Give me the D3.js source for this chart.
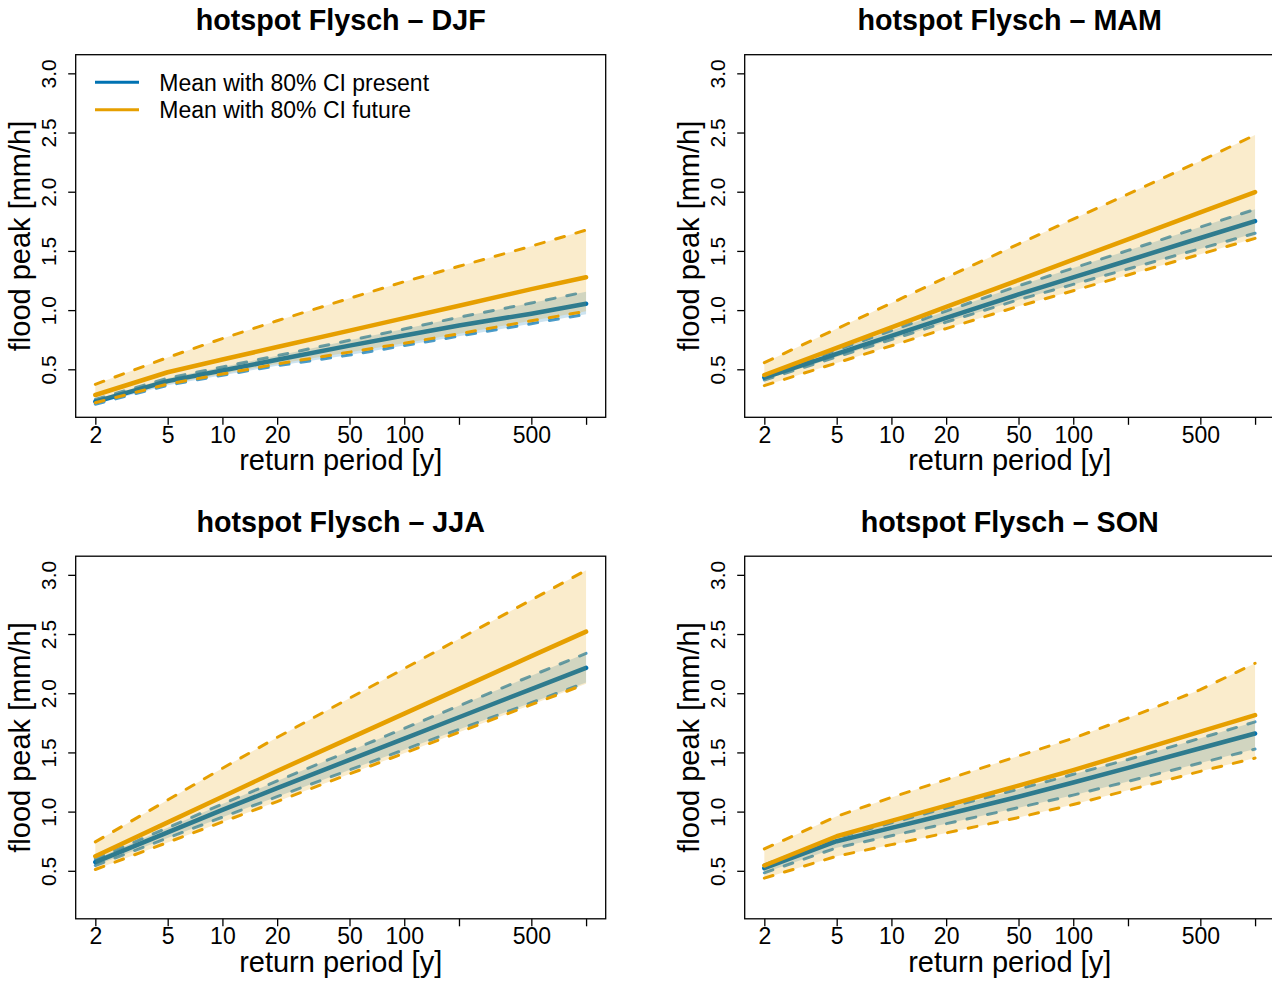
<!DOCTYPE html>
<html>
<head>
<meta charset="utf-8">
<script src="https://cdn.jsdelivr.net/npm/d3@7"></script>
<style>
  body { margin: 0; background: #fff; }
  svg { display: block; }
  text { font-family: "Liberation Sans", Arial, Helvetica, sans-serif; fill: #000; }
</style>
</head>
<body>
<svg id="chart" width="1272" height="990"></svg>
<script>
// Return periods (years) at which the flood peak quantiles are evaluated
const returnPeriods = [2, 5, 10, 20, 50, 100, 200, 500, 1000];
const seasons = ["DJF", "MAM", "JJA", "SON"];

// One row per season (DJF, MAM, JJA, SON); values in mm/h
const presentMean = [
  [0.226, 0.400, 0.490, 0.580, 0.700, 0.785, 0.870, 0.970, 1.054],
  [0.430, 0.631, 0.783, 0.935, 1.133, 1.276, 1.419, 1.609, 1.752],
  [0.573, 0.824, 1.014, 1.199, 1.437, 1.617, 1.797, 2.035, 2.214],
  [0.522, 0.750, 0.863, 0.976, 1.126, 1.246, 1.370, 1.535, 1.660]
];
const presentLow = [
  [0.205, 0.365, 0.450, 0.530, 0.620, 0.700, 0.780, 0.885, 0.965],
  [0.410, 0.604, 0.751, 0.898, 1.087, 1.217, 1.347, 1.519, 1.649],
  [0.545, 0.777, 0.953, 1.126, 1.352, 1.523, 1.694, 1.920, 2.090],
  [0.483, 0.694, 0.796, 0.898, 1.033, 1.139, 1.255, 1.410, 1.528]
];
const presentHigh = [
  [0.245, 0.425, 0.520, 0.615, 0.745, 0.840, 0.940, 1.060, 1.155],
  [0.445, 0.663, 0.827, 0.992, 1.205, 1.355, 1.504, 1.702, 1.851],
  [0.600, 0.864, 1.064, 1.259, 1.512, 1.703, 1.894, 2.147, 2.337],
  [0.550, 0.780, 0.905, 1.030, 1.190, 1.315, 1.440, 1.620, 1.758]
];
const futureMean = [
  [0.283, 0.475, 0.583, 0.688, 0.827, 0.932, 1.037, 1.177, 1.277],
  [0.452, 0.681, 0.854, 1.027, 1.254, 1.426, 1.598, 1.825, 1.997],
  [0.623, 0.909, 1.126, 1.343, 1.619, 1.828, 2.037, 2.313, 2.520],
  [0.545, 0.792, 0.922, 1.051, 1.220, 1.350, 1.490, 1.675, 1.815]
];
const futureLow = [
  [0.218, 0.375, 0.460, 0.545, 0.645, 0.720, 0.800, 0.910, 0.990],
  [0.362, 0.554, 0.699, 0.844, 1.032, 1.164, 1.297, 1.472, 1.606],
  [0.511, 0.740, 0.913, 1.085, 1.318, 1.494, 1.670, 1.903, 2.079],
  [0.438, 0.623, 0.721, 0.820, 0.950, 1.060, 1.180, 1.340, 1.452]
];
const futureHigh = [
  [0.373, 0.600, 0.760, 0.910, 1.100, 1.240, 1.370, 1.540, 1.676],
  [0.556, 0.842, 1.059, 1.276, 1.558, 1.769, 1.980, 2.260, 2.479],
  [0.744, 1.098, 1.366, 1.627, 1.958, 2.208, 2.458, 2.788, 3.038],
  [0.685, 0.960, 1.120, 1.270, 1.470, 1.620, 1.790, 2.030, 2.253]
];

// Axis ticks
const xTickValues = [2, 5, 10, 20, 50, 100, 200, 500, 1000];
const xTickLabels = ["2", "5", "10", "20", "50", "100", "", "500", ""];
const yTickValues = [0.5, 1.0, 1.5, 2.0, 2.5, 3.0];
const yTickLabels = ["0.5", "1.0", "1.5", "2.0", "2.5", "3.0"];
const yLimits = [0.208, 3.044];
const legendLabels = ["Mean with 80% CI present", "Mean with 80% CI future"];

const colPresent = "#0072B2";
const colFuture = "#E69F00";

// Layout of the 2 x 2 panel grid
const panelW = 669, panelH = 501.5;
const mLeft = 75.7, mTop = 54.7, plotW = 530, plotH = 362.6;

const svg = d3.select("#chart");

// R-style 4% axis extension
function extend(lo, hi) { const e = (hi - lo) * 0.04; return [lo - e, hi + e]; }
const xLogExt = extend(Math.log10(returnPeriods[0]), Math.log10(returnPeriods[returnPeriods.length - 1]));
const xDomain = [Math.pow(10, xLogExt[0]), Math.pow(10, xLogExt[1])];
const yDomain = extend(yLimits[0], yLimits[1]);

seasons.forEach((season, i) => {
  const col = i % 2, row = Math.floor(i / 2);
  const g = svg.append("g")
    .attr("transform", `translate(${col * panelW + mLeft},${row * panelH + mTop})`);

  const x = d3.scaleLog().domain(xDomain).range([0, plotW]);
  const y = d3.scaleLinear().domain(yDomain).range([plotH, 0]);

  const pts = (arr) => returnPeriods.map((t, k) => [t, arr[i][k]]);
  const line = d3.line().x(d => x(d[0])).y(d => y(d[1]));
  const band = (lo, hi) => d3.area()
    .x((t) => x(t))
    .y0((t, k) => y(lo[i][k]))
    .y1((t, k) => y(hi[i][k]))(returnPeriods);

  // present: band, bounds, mean
  g.append("path").attr("d", band(presentLow, presentHigh))
    .attr("fill", colPresent).attr("fill-opacity", 0.2);
  [presentLow, presentHigh].forEach(arr => {
    g.append("path").attr("d", line(pts(arr)))
      .attr("fill", "none").attr("stroke", colPresent).attr("stroke-opacity", 0.7)
      .attr("stroke-width", 3).attr("stroke-dasharray", "9,12").attr("stroke-linecap", "round");
  });
  g.append("path").attr("d", line(pts(presentMean)))
    .attr("fill", "none").attr("stroke", colPresent).attr("stroke-width", 4.5)
    .attr("stroke-linecap", "round").attr("stroke-linejoin", "round");

  // future: band, bounds, mean
  g.append("path").attr("d", band(futureLow, futureHigh))
    .attr("fill", colFuture).attr("fill-opacity", 0.2);
  [futureLow, futureHigh].forEach(arr => {
    g.append("path").attr("d", line(pts(arr)))
      .attr("fill", "none").attr("stroke", colFuture)
      .attr("stroke-width", 3).attr("stroke-dasharray", "9,12").attr("stroke-linecap", "round");
  });
  g.append("path").attr("d", line(pts(futureMean)))
    .attr("fill", "none").attr("stroke", colFuture).attr("stroke-width", 4.5)
    .attr("stroke-linecap", "round").attr("stroke-linejoin", "round");

  // plot box
  g.append("rect").attr("x", 0).attr("y", 0).attr("width", plotW).attr("height", plotH)
    .attr("fill", "none").attr("stroke", "#000").attr("stroke-width", 1.3);

  // x axis
  const gx = g.append("g").attr("transform", `translate(0,${plotH})`)
    .call(d3.axisBottom(x).tickValues(xTickValues)
      .tickFormat((d, k) => xTickLabels[k]).tickSize(7.5));
  gx.select(".domain").remove();
  gx.selectAll(".tick line").attr("stroke", "#000").attr("stroke-width", 1.3);
  gx.selectAll(".tick text").attr("y", 25.5).attr("dy", null)
    .style("font-size", "23px").attr("fill", "#000");

  // y axis (labels parallel to the axis)
  const gy = g.append("g")
    .call(d3.axisLeft(y).tickValues(yTickValues)
      .tickFormat((d, k) => yTickLabels[k]).tickSize(7.5));
  gy.select(".domain").remove();
  gy.selectAll(".tick line").attr("stroke", "#000").attr("stroke-width", 1.3);
  gy.selectAll(".tick text").attr("x", null).attr("dy", null)
    .attr("transform", "translate(-20,0) rotate(-90)")
    .attr("text-anchor", "middle")
    .style("font-size", "21px").attr("fill", "#000");

  // axis titles
  g.append("text").attr("x", plotW / 2).attr("y", plotH + 53)
    .attr("text-anchor", "middle").style("font-size", "29px")
    .text("return period [y]");
  g.append("text")
    .attr("transform", `translate(-45.5,${plotH / 2}) rotate(-90)`)
    .attr("text-anchor", "middle").style("font-size", "29px")
    .text("flood peak [mm/h]");

  // panel title
  g.append("text").attr("x", plotW / 2).attr("y", 30 - mTop)
    .attr("text-anchor", "middle").style("font-size", "28.7px").style("font-weight", "bold")
    .text(`hotspot Flysch \u2013 ${season}`);

  // legend in the first panel
  if (i === 0) {
    const lg = g.append("g");
    [colPresent, colFuture].forEach((c, k) => {
      const ly = 82.3 - mTop + k * 27.5;
      lg.append("line").attr("x1", 95 - mLeft).attr("x2", 139 - mLeft)
        .attr("y1", ly).attr("y2", ly)
        .attr("stroke", c).attr("stroke-width", 3);
      lg.append("text").attr("x", 159.3 - mLeft).attr("y", ly + 8.5)
        .style("font-size", "23px").text(legendLabels[k]);
    });
  }
});
</script>
</body>
</html>
